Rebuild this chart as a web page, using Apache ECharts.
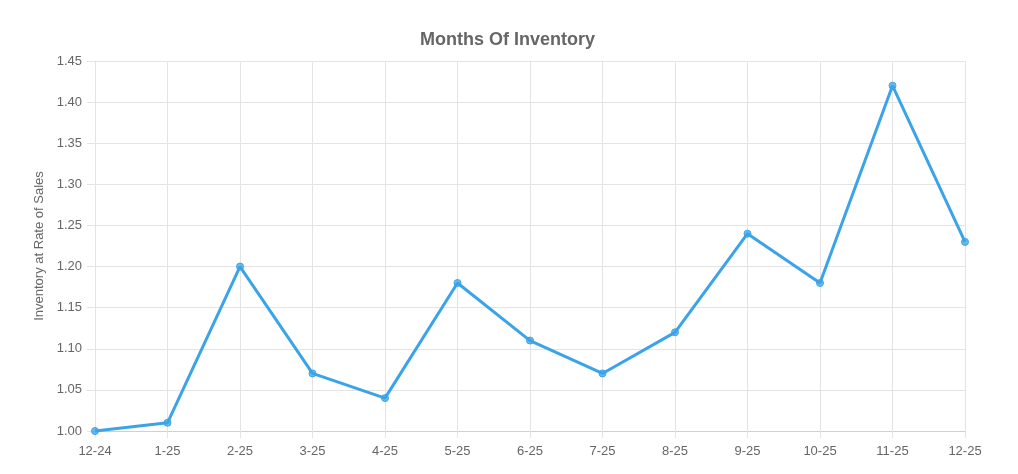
<!DOCTYPE html>
<html>
<head>
<meta charset="utf-8">
<script src="https://cdn.jsdelivr.net/npm/echarts@6/dist/echarts.min.js"></script>
<style>
  html, body { margin: 0; padding: 0; background: #fff; }
  #chart { width: 1018px; height: 474px; }
</style>
</head>
<body>
<div id="chart"></div>
<script>
const months = ["12-24", "1-25", "2-25", "3-25", "4-25", "5-25", "6-25", "7-25", "8-25", "9-25", "10-25", "11-25", "12-25"];
const inventory = [1.00, 1.01, 1.20, 1.07, 1.04, 1.18, 1.11, 1.07, 1.12, 1.24, 1.18, 1.42, 1.23];

const GRID_COLOR = "#e4e4e4";
const TEXT_COLOR = "#666";
const FONT = "'Liberation Sans', Arial, sans-serif";

let myChart = echarts.init(document.getElementById("chart"));

let option = {
  animation: false,
  textStyle: { fontFamily: FONT },
  title: {
    text: "Months Of Inventory",
    left: 415,
    top: 26,
    textStyle: { fontFamily: FONT, fontSize: 18, fontWeight: "bold", color: TEXT_COLOR },
  },
  grid: { left: 95, right: 53, top: 61, bottom: 43, containLabel: false },
  xAxis: {
    type: "category",
    data: months,
    boundaryGap: false,
    axisLine: { lineStyle: { color: "#d0d0d0" } },
    axisTick: { show: true, length: 7, lineStyle: { color: GRID_COLOR } },
    axisLabel: { color: TEXT_COLOR, fontSize: 13, fontFamily: FONT, margin: 14 },
    splitLine: { show: true, lineStyle: { color: GRID_COLOR } },
  },
  yAxis: {
    type: "value",
    min: 1.0,
    max: 1.45,
    interval: 0.05,
    name: "Inventory at Rate of Sales",
    nameLocation: "middle",
    nameGap: 47,
    nameTextStyle: { color: TEXT_COLOR, fontSize: 13, fontFamily: FONT },
    axisLine: { show: true, lineStyle: { color: GRID_COLOR } },
    axisTick: { show: true, length: 8, lineStyle: { color: GRID_COLOR } },
    axisLabel: {
      color: TEXT_COLOR,
      fontSize: 13,
      fontFamily: FONT,
      margin: 13,
      formatter: (value) => value.toFixed(2),
    },
    splitLine: { show: true, lineStyle: { color: GRID_COLOR } },
  },
  series: [
    {
      type: "line",
      data: inventory,
      symbol: "circle",
      symbolSize: 7,
      lineStyle: { color: "#3ba3e8", width: 3 },
      itemStyle: { color: "rgba(59,163,232,0.75)", borderColor: "#3ba3e8", borderWidth: 1 },
    },
  ],
};

option && myChart.setOption(option);
</script>
</body>
</html>
